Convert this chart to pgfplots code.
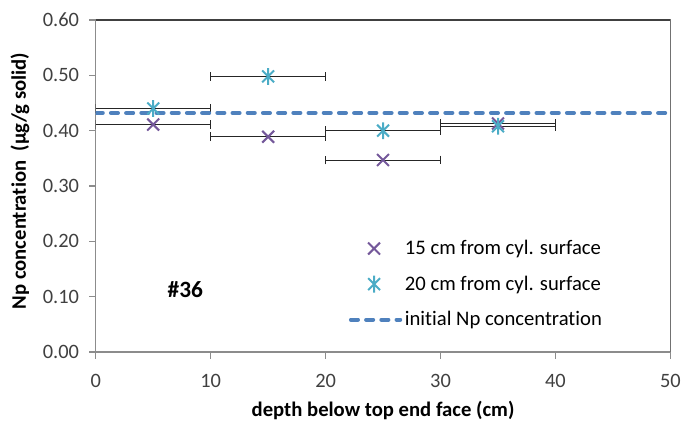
\documentclass[border=0pt]{standalone}
\usepackage{pgfplots}
\pgfplotsset{compat=1.18}
\usepackage{fontspec}
\setmainfont{Carlito}[Ligatures=NoCommon]
\definecolor{cpurple}{HTML}{74589A}
\definecolor{cteal}{HTML}{4BACC6}
\definecolor{cblue}{HTML}{4F81BD}
\definecolor{axgray}{HTML}{8C8C8C}
\definecolor{tickgray}{HTML}{404040}
\pgfdeclareplotmark{xstar}{%
 \pgfpathmoveto{\pgfqpoint{-.7071\pgfplotmarksize}{-.7071\pgfplotmarksize}}%
 \pgfpathlineto{\pgfqpoint{.7071\pgfplotmarksize}{.7071\pgfplotmarksize}}%
 \pgfpathmoveto{\pgfqpoint{-.7071\pgfplotmarksize}{.7071\pgfplotmarksize}}%
 \pgfpathlineto{\pgfqpoint{.7071\pgfplotmarksize}{-.7071\pgfplotmarksize}}%
 \pgfpathmoveto{\pgfqpoint{0pt}{-\pgfplotmarksize}}%
 \pgfpathlineto{\pgfqpoint{0pt}{\pgfplotmarksize}}%
 \pgfusepathqstroke}
\pgfplotsset{
  marklegend/.style={legend image code/.code={\path[draw=none] (0cm,0cm) -- (1.4cm,0cm); \draw[##1, draw=none] plot coordinates {(0.71cm,0cm)};}},
  linelegend/.style={legend image code/.code={\draw[##1] (0.1cm,0cm) -- (1.4cm,0cm);}},
}
\begin{document}
\begin{tikzpicture}
\path[use as bounding box] (-71.8pt,-53.25pt) rectangle (439.7pt,264pt);
\begin{axis}[
  scale only axis,
  width=431pt, height=249pt,
  xmin=0, xmax=50, ymin=0, ymax=0.6,
  xtick={0,10,...,50},
  ytick={0,0.1,...,0.6},
  yticklabel style={xshift=-4pt, /pgf/number format/.cd, fixed, fixed zerofill, precision=2},
  /pgf/number format/assume math mode=true,
  tick label style={font=\fontsize{15.3}{18}\selectfont, text=tickgray},
  xticklabel style={yshift=-8pt},
  axis line style={axgray, line width=0.8pt},
  tick style={axgray, line width=0.8pt},
  tick align=outside,
  major tick length=5pt,
  xtick pos=bottom, ytick pos=left,
  xlabel={depth below top end face (cm)},
  ylabel={Np concentration\ \ (µg/g solid)},
  label style={font=\bfseries\fontsize{15.5}{18}\selectfont},
  xlabel style={at={(axis description cs:0.5,0)}, yshift=-43.5pt, anchor=center},
  ylabel style={at={(axis description cs:-0.132,0.515)}, anchor=center},
  legend style={draw=none, fill=none, inner sep=0pt, at={(0.437,0.345)}, anchor=north west,
    font=\fontsize{15.5}{18}\selectfont, row sep=10.4pt, cells={anchor=west}},
  legend cell align=left,
  error bars/error bar style={black!85, line width=0.7pt},
  error bars/error mark=|,
  error bars/error mark options={black!85, line width=0.7pt, mark size=3.3pt},
]
\addplot[only marks, mark=x, mark size=6.3pt, line width=1.5pt, color=cpurple, marklegend,
  error bars/.cd, x dir=both, x explicit]
  coordinates {
  (5,0.411) +- (5,0)
  (15,0.389) +- (5,0)
  (25,0.347) +- (5,0)
  (35,0.413) +- (5,0)
  };
\addlegendentry{15 cm from cyl. surface}
\addplot[only marks, mark=xstar, mark size=6.3pt, line width=1.5pt, color=cteal, marklegend,
  error bars/.cd, x dir=both, x explicit]
  coordinates {
  (5,0.440) +- (5,0)
  (15,0.498) +- (5,0)
  (25,0.400) +- (5,0)
  (35,0.408) +- (5,0)
  };
\addlegendentry{20 cm from cyl. surface}
\addplot[no marks, color=cblue, line width=3pt, line cap=round, dash pattern=on 5.3pt off 6.1pt, linelegend]
  coordinates {(0,0.432) (50,0.432)};
\addlegendentry{initial Np concentration}
\draw[black!75, line width=0.8pt] (rel axis cs:0,1) -- (rel axis cs:1,1) -- (rel axis cs:1,0);
\node[font=\bfseries\fontsize{17.5}{20}\selectfont] at (axis cs:7.8,0.112) {\#36};
\end{axis}
\end{tikzpicture}
\end{document}
